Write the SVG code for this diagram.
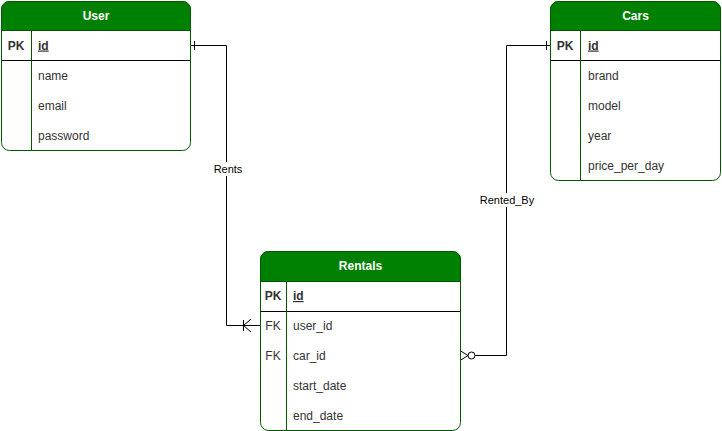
<svg xmlns="http://www.w3.org/2000/svg" width="722" height="431" viewBox="0 0 722 431">
<style>
.box{fill:#ffffff;stroke:#005700;stroke-width:1}
.hdr{fill:#008000}
.hdro{fill:none;stroke:#005700;stroke-width:1}
.div{stroke:#005700;stroke-width:1}
.sep{stroke:#000000;stroke-width:1}
.title{font-family:"Liberation Sans",Arial,sans-serif;font-size:12px;font-weight:bold;fill:#ffffff;text-anchor:middle}
.key{font-family:"Liberation Sans",Arial,sans-serif;font-size:12px;fill:#333333;text-anchor:middle}
.pk{font-weight:bold}
.fld{font-family:"Liberation Sans",Arial,sans-serif;font-size:12px;fill:#333333}
.pkf{font-family:"Liberation Sans",Arial,sans-serif;font-size:12px;fill:#333333;font-weight:bold;text-decoration:underline}
.edge{fill:none;stroke:#000000;stroke-width:1}
.lbl{font-family:"Liberation Sans",Arial,sans-serif;font-size:11px;fill:#000000;text-anchor:middle}
</style>
<rect width="722" height="431" fill="#ffffff"/>
<g id="connectors">
  <path class="edge" d="M190,45.5 H226.5 V325.5 H260"/>
  <line class="edge" x1="194.5" y1="41" x2="194.5" y2="50"/>
  <line class="edge" x1="243.5" y1="320" x2="243.5" y2="331"/>
  <path class="edge" d="M251,319 L243.5,325.5 L251,332"/>
  <path class="edge" d="M550,45.5 H506.5 V355.5 H475"/>
  <line class="edge" x1="546.5" y1="41" x2="546.5" y2="50"/>
  <circle cx="471.5" cy="355.5" r="3.5" fill="#ffffff" stroke="#000000" stroke-width="1"/>
  <path class="edge" d="M460,350.5 L468,355.5 L460,360.5"/>
  <rect x="212" y="162" width="32" height="14" fill="#ffffff"/>
  <text class="lbl" x="228" y="173">Rents</text>
  <rect x="479" y="193" width="56" height="14" fill="#ffffff"/>
  <text class="lbl" x="507" y="204">Rented_By</text>
</g>
<g id="user">
  <rect class="box" x="1.5" y="1.5" width="189" height="149" rx="8"/>
  <path class="hdr" d="M9.5,1.5 H182.5 A8,8 0 0 1 190.5,9.5 V30.5 H1.5 V9.5 A8,8 0 0 1 9.5,1.5 Z"/>
  <path class="hdro" d="M9.5,1.5 H182.5 A8,8 0 0 1 190.5,9.5 V30.5 H1.5 V9.5 A8,8 0 0 1 9.5,1.5 Z"/>
  <text class="title" x="96" y="20">User</text>
  <line class="div" x1="31.5" y1="30.5" x2="31.5" y2="150.5"/>
  <line class="sep" x1="1.5" y1="60.5" x2="190.5" y2="60.5"/>
  <text class="key pk" x="16" y="49.5">PK</text>
  <text class="pkf" x="38" y="49.5">id</text>
  <text class="fld" x="38" y="79.5">name</text>
  <text class="fld" x="38" y="109.5">email</text>
  <text class="fld" x="38" y="139.5">password</text>
</g>
<g id="cars">
  <rect class="box" x="550.5" y="1.5" width="170" height="179" rx="8"/>
  <path class="hdr" d="M558.5,1.5 H712.5 A8,8 0 0 1 720.5,9.5 V30.5 H550.5 V9.5 A8,8 0 0 1 558.5,1.5 Z"/>
  <path class="hdro" d="M558.5,1.5 H712.5 A8,8 0 0 1 720.5,9.5 V30.5 H550.5 V9.5 A8,8 0 0 1 558.5,1.5 Z"/>
  <text class="title" x="635.5" y="20">Cars</text>
  <line class="div" x1="580.5" y1="30.5" x2="580.5" y2="180.5"/>
  <line class="sep" x1="550.5" y1="60.5" x2="720.5" y2="60.5"/>
  <text class="key pk" x="565" y="49.5">PK</text>
  <text class="pkf" x="588" y="49.5">id</text>
  <text class="fld" x="588" y="79.5">brand</text>
  <text class="fld" x="588" y="109.5">model</text>
  <text class="fld" x="588" y="139.5">year</text>
  <text class="fld" x="588" y="169.5">price_per_day</text>
</g>
<g id="rentals">
  <rect class="box" x="260.5" y="251.5" width="200" height="179" rx="8"/>
  <path class="hdr" d="M268.5,251.5 H452.5 A8,8 0 0 1 460.5,259.5 V281.5 H260.5 V259.5 A8,8 0 0 1 268.5,251.5 Z"/>
  <path class="hdro" d="M268.5,251.5 H452.5 A8,8 0 0 1 460.5,259.5 V281.5 H260.5 V259.5 A8,8 0 0 1 268.5,251.5 Z"/>
  <text class="title" x="360.5" y="270">Rentals</text>
  <line class="div" x1="286.5" y1="281.5" x2="286.5" y2="430.5"/>
  <line class="sep" x1="260.5" y1="311.5" x2="460.5" y2="311.5"/>
  <text class="key pk" x="273" y="300">PK</text>
  <text class="pkf" x="293" y="300">id</text>
  <text class="key" x="273" y="330">FK</text>
  <text class="fld" x="293" y="330">user_id</text>
  <text class="key" x="273" y="360">FK</text>
  <text class="fld" x="293" y="360">car_id</text>
  <text class="fld" x="293" y="390">start_date</text>
  <text class="fld" x="293" y="420">end_date</text>
</g>
</svg>
